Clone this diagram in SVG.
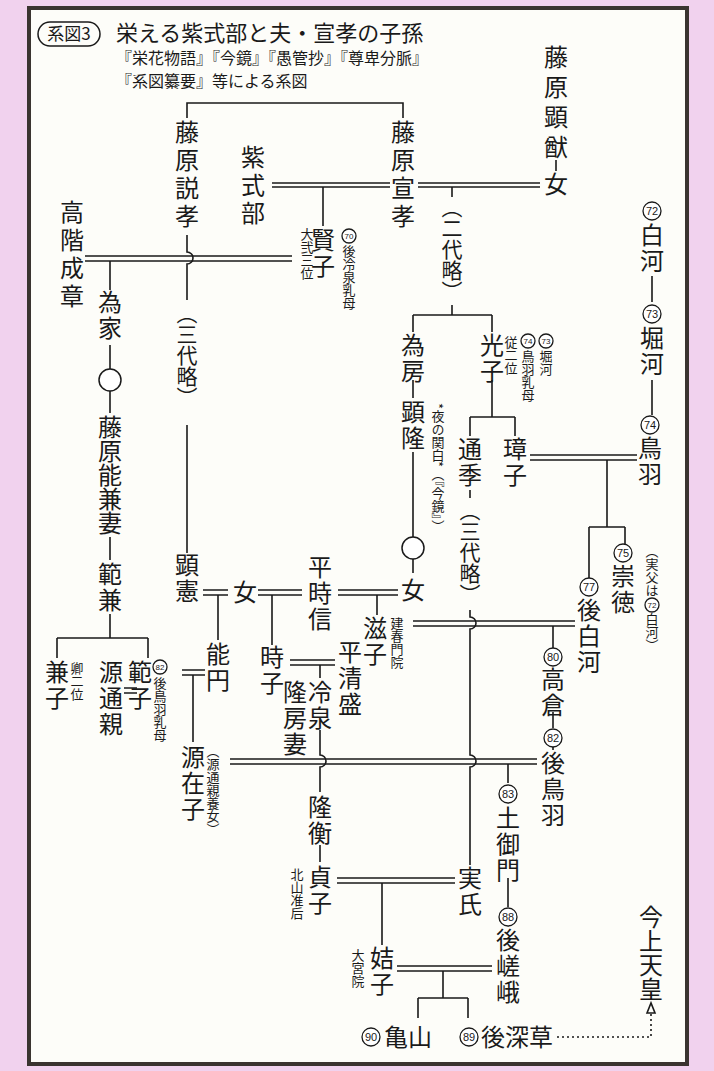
<svg xmlns="http://www.w3.org/2000/svg" width="714" height="1071" viewBox="0 0 714 1071">
<style>
text{font-family:"Noto Sans CJK JP","Noto Sans CJK SC",sans-serif;fill:#1a1a1a}
.n{font-size:24px;writing-mode:vertical-rl;letter-spacing:2px}
.p{font-size:21px;writing-mode:vertical-rl}
.s{font-size:13px;writing-mode:vertical-rl}
.h{font-size:24px}
.c circle{fill:#fff;stroke:#1a1a1a;stroke-width:1.3}
.c text{font-size:11px;text-anchor:middle;font-family:"Liberation Sans",sans-serif}
.cs text{font-size:8px}
#edges path,#edges line{fill:none;stroke:#1a1a1a;stroke-width:1.6}
</style>
<rect width="714" height="1071" fill="#f1d2ee"/>
<rect x="29" y="8" width="658" height="1056" fill="#fdfdf9" stroke="#3a3430" stroke-width="4"/>
<g id="title">
<rect x="38" y="22" width="62" height="24" rx="12" fill="none" stroke="#1a1a1a" stroke-width="1.5"/>
<text x="69" y="40" font-size="17" text-anchor="middle">系図3</text>
<text x="116" y="41" font-size="22">栄える紫式部と夫・宣孝の子孫</text>
<text x="116" y="64" font-size="16">『栄花物語』『今鏡』『愚管抄』『尊卑分脈』</text>
<text x="116" y="87" font-size="16">『系図纂要』等による系図</text>
</g>
<g id="edges">
<path d="M187 118V103H403V118"/>
<path d="M556 160V171"/>
<path d="M418 183H540M418 187H540"/>
<path d="M272 183H390M272 187H390"/>
<path d="M323 187V226"/>
<path d="M452 187V197M452 305V315M413 315H492M413 315V332M492 315V332"/>
<path d="M85 256H292M85 261H292"/>
<path d="M187 235V252a6 6 0 0 1 0 12V300"/>
<path d="M187 425V553"/>
<path d="M110 261V290M110 345V369M110 391V413M110 537V560M110 614V638M57 638H148M57 638V658M148 638V658"/>
<path d="M124 688H137M124 693H137"/>
<path d="M413 380V398M413 452V537M413 559V573"/>
<path d="M492 380V417M470 417H515M470 417V436M515 417V436M470 490V498"/>
<path d="M470 610V617a6 6 0 0 1 0 12V755a6 6 0 0 1 0 12V865"/>
<path d="M530 455H637M530 460H637M607 460V527M589 527H625M589 527V578M625 527V545"/>
<path d="M652 276V302M652 380V415"/>
<path d="M203 590H228M203 595H228M218 595V640"/>
<path d="M258 590H302M258 595H302M272 595V645"/>
<path d="M338 590H398M338 595H398M377 595V615"/>
<path d="M413 621H575M413 626H575M553 626V648M553 712V728M553 740V750"/>
<path d="M182 670H205M182 675H205M193 675V742"/>
<path d="M290 660H335M290 665H335M320 665V678"/>
<path d="M320 730V755a6 6 0 0 1 0 12V792M320 845V862"/>
<path d="M230 759H537M230 764H537"/>
<path d="M508 764V783M508 878V907"/>
<path d="M337 878H455M337 883H455M382 883V945"/>
<path d="M397 966H492M397 971H492M443 971V998M418 998H468M418 998V1018M468 998V1018"/>
<path d="M557 1037H651V1012" stroke-dasharray="2 3" stroke-width="2.2"/>
<path d="M647 1013L651 1003L655 1013Z" fill="#1a1a1a"/>
</g>
<g id="n-akinobu"><text class="n" x="556" y="45" style="letter-spacing:6px">藤原顕猷</text></g>
<g id="n-onna1"><text class="n" x="556" y="172">女</text></g>
<g id="n-nobutaka"><text class="n" x="403" y="120" style="letter-spacing:4px">藤原宣孝</text></g>
<g id="n-nobutaka2"><text class="n" x="187" y="120" style="letter-spacing:4px">藤原説孝</text></g>
<g id="n-murasaki"><text class="n" x="253" y="145" style="letter-spacing:4px">紫式部</text></g>
<g id="n-kenshi"><text class="n" x="323" y="228">賢子</text>
<text class="s" x="307" y="228">大弐三位</text>
<g class="c cs"><circle cx="349" cy="236" r="7"/><text x="349" y="239">70</text></g>
<text class="s" x="349" y="245">後冷泉乳母</text></g>
<g id="n-takashina"><text class="n" x="72" y="200" style="letter-spacing:4px">高階成章</text></g>
<g id="n-tameie"><text class="n" x="110" y="290">為家</text>
<circle cx="110" cy="380" r="11" fill="#fff" stroke="#1a1a1a" stroke-width="1.5"/></g>
<g id="n-yoshikane"><text class="n" x="110" y="415" style="letter-spacing:0">藤原能兼妻</text></g>
<g id="n-norikane"><text class="n" x="110" y="562">範兼</text></g>
<g id="n-kaneko"><text class="n" x="57" y="660">兼子</text><text class="s" x="77" y="662">卿二位</text></g>
<g id="n-michichika"><text class="n" x="111" y="660">源通親</text></g>
<g id="n-noriko"><text class="n" x="140" y="660">範子</text>
<g class="c cs"><circle cx="160" cy="667" r="7"/><text x="160" y="670">82</text></g>
<text class="s" x="160" y="677">後鳥羽乳母</text></g>
<g id="n-sandai1"><text class="p" x="187" y="303">（三代略）</text></g>
<g id="n-akinori"><text class="n" x="187" y="553">顕憲</text></g>
<g id="n-onna2"><text class="n" x="245" y="580">女</text></g>
<g id="n-tokinobu"><text class="n" x="320" y="555">平時信</text></g>
<g id="n-onna3"><text class="n" x="413" y="578">女</text></g>
<g id="n-noen"><text class="n" x="218" y="642">能円</text></g>
<g id="n-tokiko"><text class="n" x="272" y="645">時子</text></g>
<g id="n-kiyomori"><text class="n" x="350" y="640">平清盛</text></g>
<g id="n-reizei"><text class="n" x="320" y="680">冷泉</text><text class="n" x="295" y="680">隆房妻</text></g>
<g id="n-takahira"><text class="n" x="320" y="795">隆衡</text></g>
<g id="n-teishi"><text class="n" x="320" y="865">貞子</text><text class="s" x="297" y="868">北山准后</text></g>
<g id="n-shigeko"><text class="n" x="375" y="616">滋子</text><text class="s" x="397" y="617">建春門院</text></g>
<g id="n-zaishi"><text class="n" x="193" y="745">源在子</text><text class="s" x="213" y="745">（源通親養女）</text></g>
<g id="n-nidai"><text class="p" x="452" y="197">（二代略）</text></g>
<g id="n-tamefusa"><text class="n" x="413" y="333">為房</text></g>
<g id="n-akitaka"><text class="n" x="413" y="400">顕隆</text><text class="s" x="438" y="403">*夜の関白*（『今鏡』）</text>
<circle cx="413" cy="548" r="11" fill="#fff" stroke="#1a1a1a" stroke-width="1.5"/></g>
<g id="n-mitsuko"><text class="n" x="492" y="333">光子</text>
<text class="s" x="511" y="336">従二位</text>
<g class="c cs"><circle cx="528" cy="341" r="7"/><text x="528" y="344">74</text></g>
<text class="s" x="528" y="350">鳥羽乳母</text>
<g class="c cs"><circle cx="546" cy="341" r="7"/><text x="546" y="344">73</text></g>
<text class="s" x="546" y="350">堀河</text></g>
<g id="n-michisue"><text class="n" x="470" y="437">通季</text><text class="p" x="470" y="500">（三代略）</text></g>
<g id="n-shoshi"><text class="n" x="515" y="437">璋子</text></g>
<g id="n-shirakawa"><g class="c"><circle cx="652" cy="211" r="9"/><text x="652" y="215">72</text></g><text class="n" x="652" y="223">白河</text></g>
<g id="n-horikawa"><g class="c"><circle cx="652" cy="314" r="9"/><text x="652" y="318">73</text></g><text class="n" x="652" y="326">堀河</text></g>
<g id="n-toba"><g class="c"><circle cx="650" cy="425" r="9"/><text x="650" y="429">74</text></g><text class="n" x="650" y="436">鳥羽</text></g>
<g id="n-sutoku"><g class="c"><circle cx="623" cy="553" r="9"/><text x="623" y="557">75</text></g><text class="n" x="623" y="564">崇徳</text>
<text class="s" x="652" y="545">（実父は</text>
<g class="c cs"><circle cx="652" cy="605" r="7"/><text x="652" y="608">72</text></g>
<text class="s" x="652" y="613">白河）</text></g>
<g id="n-goshirakawa"><g class="c"><circle cx="589" cy="587" r="9"/><text x="589" y="591">77</text></g><text class="n" x="589" y="598">後白河</text></g>
<g id="n-takakura"><g class="c"><circle cx="553" cy="657" r="9"/><text x="553" y="661">80</text></g><text class="n" x="553" y="667">高倉</text></g>
<g id="n-gotoba"><g class="c"><circle cx="553" cy="738" r="9"/><text x="553" y="742">82</text></g><text class="n" x="553" y="751">後鳥羽</text></g>
<g id="n-tsuchimikado"><g class="c"><circle cx="508" cy="794" r="9"/><text x="508" y="798">83</text></g><text class="n" x="508" y="806">土御門</text></g>
<g id="n-gosaga"><g class="c"><circle cx="508" cy="917" r="9"/><text x="508" y="921">88</text></g><text class="n" x="508" y="928">後嵯峨</text></g>
<g id="n-saneuji"><text class="n" x="470" y="866">実氏</text></g>
<g id="n-kitsushi"><text class="n" x="382" y="946">姞子</text><text class="s" x="358" y="949">大宮院</text></g>
<g id="n-kameyama"><g class="c"><circle cx="371" cy="1037" r="9"/><text x="371" y="1041">90</text></g><text class="h" x="384" y="1046">亀山</text></g>
<g id="n-gofukakusa"><g class="c"><circle cx="469" cy="1037" r="9"/><text x="469" y="1041">89</text></g><text class="h" x="481" y="1046">後深草</text></g>
<g id="n-kinjo"><text class="n" x="651" y="905" style="letter-spacing:0">今上天皇</text></g>
</svg>
